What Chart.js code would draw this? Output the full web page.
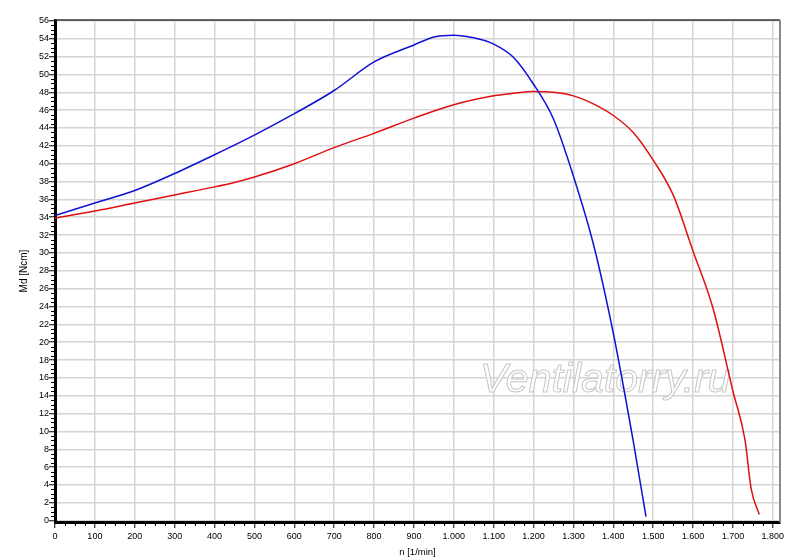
<!DOCTYPE html>
<html>
<head>
<meta charset="utf-8">
<script src="https://cdn.jsdelivr.net/npm/chart.js@4/dist/chart.umd.min.js"></script>
<style>
  html, body { margin: 0; padding: 0; background: #fff; }
  #wrap { width: 800px; height: 558px; position: relative; }
</style>
</head>
<body>
<div id="wrap"><canvas id="c"></canvas></div>
<script>
// speed n [1/min] and torque Md [Ncm]
const nBlue  = [0, 100, 200, 300, 400, 500, 600, 700, 800, 900, 950, 1000, 1050, 1100, 1150, 1200, 1250, 1300, 1350, 1400, 1450, 1482];
const mdBlue = [34.2, 35.6, 37.0, 38.9, 41.0, 43.2, 45.6, 48.2, 51.4, 53.3, 54.2, 54.4, 54.1, 53.4, 51.9, 48.9, 45.0, 38.6, 31.0, 21.0, 8.9, 0.45];

const nRed  = [0, 100, 200, 300, 400, 450, 500, 600, 700, 800, 900, 1000, 1100, 1150, 1200, 1250, 1300, 1350, 1400, 1450, 1500, 1550, 1600, 1650, 1700, 1730, 1746, 1766];
const mdRed = [33.9, 34.7, 35.6, 36.5, 37.4, 37.9, 38.5, 40.0, 41.8, 43.4, 45.1, 46.6, 47.6, 47.9, 48.1, 48.0, 47.6, 46.7, 45.4, 43.5, 40.4, 36.5, 30.2, 23.8, 14.5, 9.1, 3.5, 0.7];

const xTitle = "n [1/min]";
const yTitle = "Md [Ncm]";
const watermark = "Ventilatorry.ru";

function pts(xs, ys) { return xs.map((x, i) => ({ x: x, y: ys[i] })); }

function fmtThousands(v) {
  if (v >= 1000) return Math.floor(v / 1000) + "." + String(v % 1000).padStart(3, "0");
  return String(v);
}

// watermark sits over the grid but under the curves
const watermarkPlugin = {
  id: "watermark",
  beforeDatasetsDraw(chart) {
    const ctx = chart.ctx;
    ctx.save();
    ctx.font = "italic 41px 'Liberation Sans', Arial, sans-serif";
    ctx.textBaseline = "alphabetic";
    ctx.fillStyle = "rgba(255,255,255,0.9)";
    ctx.fillText(watermark, 480, 392);
    ctx.strokeStyle = "#c8c8c8";
    ctx.lineWidth = 1;
    ctx.strokeText(watermark, 480, 392);
    ctx.restore();
  }
};

// minor ticks and the top / right frame
const framePlugin = {
  id: "frame",
  afterDraw(chart) {
    const ctx = chart.ctx;
    const a = chart.chartArea;
    const xs = chart.scales.x, ys = chart.scales.y;
    ctx.save();
    ctx.strokeStyle = "#000";
    ctx.lineWidth = 1;
    ctx.beginPath();
    for (let v = 0.5; v < 56; v += 0.5) {
      if (v % 2 === 0) continue;
      const y = Math.round(ys.getPixelForValue(v)) + 0.5;
      ctx.moveTo(a.left - 4, y);
      ctx.lineTo(a.left, y);
    }
    for (let v = 25; v < 1800; v += 25) {
      if (v % 100 === 0) continue;
      const x = Math.round(xs.getPixelForValue(v)) + 0.5;
      ctx.moveTo(x, a.bottom);
      ctx.lineTo(x, a.bottom + 4);
    }
    ctx.stroke();
    ctx.lineWidth = 1.5;
    ctx.strokeStyle = "#333";
    ctx.beginPath();
    ctx.moveTo(a.left, a.top);
    ctx.lineTo(a.right, a.top);
    ctx.stroke();
    ctx.lineWidth = 2;
    ctx.strokeStyle = "#8a8a8a";
    ctx.beginPath();
    ctx.moveTo(a.right, a.top);
    ctx.lineTo(a.right, a.bottom);
    ctx.stroke();
    ctx.restore();
  }
};

new Chart(document.getElementById("c"), {
  type: "line",
  data: {
    datasets: [
      { data: pts(nBlue, mdBlue), borderColor: "#1010d8", borderWidth: 1.5, pointRadius: 0, cubicInterpolationMode: "monotone", fill: false },
      { data: pts(nRed, mdRed), borderColor: "#e01010", borderWidth: 1.5, pointRadius: 0, cubicInterpolationMode: "monotone", fill: false }
    ]
  },
  options: {
    responsive: true,
    maintainAspectRatio: false,
    animation: false,
    layout: { padding: { left: 0, top: 20, right: 20, bottom: 0 } },
    plugins: { legend: { display: false }, tooltip: { enabled: false } },
    scales: {
      x: {
        type: "linear",
        min: 0,
        max: 1818,
        afterFit: s => { s.height = 36; },
        ticks: {
          stepSize: 100,
          includeBounds: false,
          autoSkip: false,
          maxRotation: 0,
          padding: 3,
          color: "#000",
          font: { family: "'Liberation Sans', Arial, sans-serif", size: 9 },
          callback: v => fmtThousands(v)
        },
        grid: { color: "#d4d4d4", lineWidth: 1.5, tickColor: "#000", tickLength: 6, tickWidth: 1 },
        border: { color: "#000", width: 3 },
        title: {
          display: true,
          text: xTitle,
          color: "#000",
          padding: { top: 0, bottom: 0 },
          font: { family: "'Liberation Sans', Arial, sans-serif", size: 9.5 }
        }
      },
      y: {
        min: -0.15,
        max: 56.1,
        afterFit: s => { s.width = 55; },
        ticks: {
          stepSize: 2,
          includeBounds: false,
          autoSkip: false,
          padding: 0,
          color: "#000",
          font: { family: "'Liberation Sans', Arial, sans-serif", size: 9 }
        },
        grid: { color: "#d4d4d4", lineWidth: 1.5, tickColor: "#000", tickLength: 6, tickWidth: 1 },
        border: { color: "#000", width: 3 },
        title: {
          display: true,
          text: yTitle,
          color: "#000",
          padding: { top: 18, bottom: 0 },
          font: { family: "'Liberation Sans', Arial, sans-serif", size: 10 }
        }
      }
    }
  },
  plugins: [watermarkPlugin, framePlugin]
});
</script>
</body>
</html>
